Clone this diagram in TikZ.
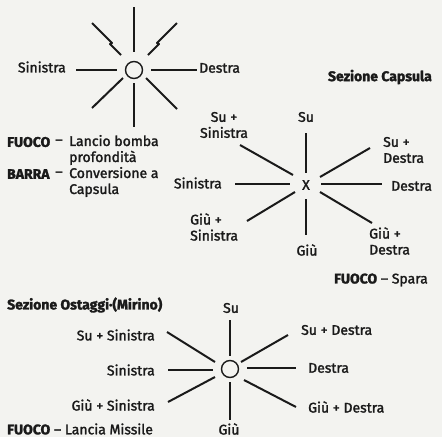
\documentclass[tikz,border=0pt]{standalone}
\usepackage{fontspec}
\setmainfont{Fira Sans}[UprightFeatures={FakeBold=1.8},BoldFeatures={FakeBold=1.8}]
\begin{document}
\begin{tikzpicture}[x=1pt,y=-1pt,
  spoke/.style={line width=2pt,draw=ink,line join=round},
  lbl/.style={inner sep=0pt,text=ink,font=\fontsize{14}{16}\selectfont},
  hdr/.style={lbl,font=\fontsize{14}{16}\selectfont\bfseries},
  ring/.style={circle,draw=ink,line width=1.4pt,minimum size=17pt,inner sep=0pt}]
\definecolor{ink}{HTML}{1A1A1A}
\definecolor{paper}{HTML}{F3F3F0}
\fill[paper] (0,0) rectangle (442,437);
\useasboundingbox (0,0) rectangle (442,437);

% ---------- top diagram ----------
\node[ring] (c1) at (134,70) {};
\coordinate (t1u0) at (134,7);   \coordinate (t1u1) at (134,52);
\coordinate (t1d0) at (134,83);  \coordinate (t1d1) at (134,127);
\coordinate (t1l0) at (76,70);   \coordinate (t1l1) at (117,70);
\coordinate (t1r0) at (151,70);  \coordinate (t1r1) at (197,70);
\coordinate (t1a0) at (92,23);   \coordinate (t1a1) at (112,43);
\coordinate (t1a2) at (110,44);  \coordinate (t1a3) at (121,55);
\coordinate (t1b0) at (177,23);  \coordinate (t1b1) at (157,43);
\coordinate (t1b2) at (159,44);  \coordinate (t1b3) at (148,55);
\coordinate (t1c0) at (123,78);  \coordinate (t1c1) at (92,108);
\coordinate (t1e0) at (146,78);  \coordinate (t1e1) at (177,109);
\draw[spoke] (t1u0) -- (t1u1);
\draw[spoke] (t1d0) -- (t1d1);
\draw[spoke] (t1l0) -- (t1l1);
\draw[spoke] (t1r0) -- (t1r1);
\draw[spoke] (t1a0) -- (t1a1) -- (t1a2) -- (t1a3);
\draw[spoke] (t1b0) -- (t1b1) -- (t1b2) -- (t1b3);
\draw[spoke] (t1c0) -- (t1c1);
\draw[spoke] (t1e0) -- (t1e1);
\node[lbl,anchor=east] (t1sin) at (66,67) {Sinistra};
\node[lbl,anchor=west] (t1des) at (199,68) {Destra};

\node[hdr,anchor=west] (fuoco1) at (7,142) {FUOCO};
\node[lbl] (dash1) at (59,142) {–};
\node[lbl,anchor=west,align=left] (lancio) at (69,150) {Lancio bomba\\profondità};
\node[hdr,anchor=west] (barra) at (7,174) {BARRA};
\node[lbl] (dash2) at (59,174) {–};
\node[lbl,anchor=west,align=left] (conv) at (69,182) {Conversione a\\Capsula};

% ---------- middle diagram ----------
\node[hdr,anchor=east] (sezcap) at (432,77) {Sezione Capsula};
\node[lbl] (x2) at (306,185) {X};
\coordinate (m2u0) at (306,133); \coordinate (m2u1) at (306,173);
\coordinate (m2d0) at (306,199); \coordinate (m2d1) at (306,235);
\coordinate (m2l0) at (235,184); \coordinate (m2l1) at (290,184);
\coordinate (m2r0) at (321,184); \coordinate (m2r1) at (382,184);
\coordinate (m2a0) at (240,145); \coordinate (m2a1) at (293,175);
\coordinate (m2b0) at (320,177); \coordinate (m2b1) at (370,148);
\coordinate (m2c0) at (247,221); \coordinate (m2c1) at (295,192);
\coordinate (m2e0) at (320,192); \coordinate (m2e1) at (372,223);
\draw[spoke] (m2u0) -- (m2u1);
\draw[spoke] (m2d0) -- (m2d1);
\draw[spoke] (m2l0) -- (m2l1);
\draw[spoke] (m2r0) -- (m2r1);
\draw[spoke] (m2a0) -- (m2a1);
\draw[spoke] (m2b0) -- (m2b1);
\draw[spoke] (m2c0) -- (m2c1);
\draw[spoke] (m2e0) -- (m2e1);
\node[lbl,align=center] (m2ul) at (224,125) {Su +\\Sinistra};
\node[lbl] (m2su) at (306,117) {Su};
\node[lbl,anchor=west,align=left] (m2ur) at (383,150) {Su +\\Destra};
\node[lbl,anchor=east] (m2sin) at (222,183) {Sinistra};
\node[lbl,anchor=west] (m2des) at (391,186) {Destra};
\node[lbl,anchor=west,align=left] (m2ll) at (190,227) {Giù +\\Sinistra};
\node[lbl] (m2giu) at (307,250) {Giù};
\node[lbl,anchor=west,align=left] (m2lr) at (369,241) {Giù +\\Destra};
\node[lbl,anchor=east] (spara) at (428,280) {\textbf{FUOCO} – Spara};

% ---------- bottom diagram ----------
\node[hdr,anchor=west] (sezost) at (7,305) {Sezione Ostaggi·(Mirino)};
\node[ring] (c3) at (230,369) {};
\coordinate (b3u0) at (230,320); \coordinate (b3u1) at (230,356);
\coordinate (b3d0) at (230,382); \coordinate (b3d1) at (230,420);
\coordinate (b3l0) at (168,370); \coordinate (b3l1) at (213,370);
\coordinate (b3r0) at (247,368); \coordinate (b3r1) at (296,368);
\coordinate (b3a0) at (167,332); \coordinate (b3a1) at (215,362);
\coordinate (b3b0) at (241,362); \coordinate (b3b1) at (288,335);
\coordinate (b3c0) at (168,402); \coordinate (b3c1) at (215,377);
\coordinate (b3e0) at (244,380); \coordinate (b3e1) at (296,407);
\draw[spoke] (b3u0) -- (b3u1);
\draw[spoke] (b3d0) -- (b3d1);
\draw[spoke] (b3l0) -- (b3l1);
\draw[spoke] (b3r0) -- (b3r1);
\draw[spoke] (b3a0) -- (b3a1);
\draw[spoke] (b3b0) -- (b3b1);
\draw[spoke] (b3c0) -- (b3c1);
\draw[spoke] (b3e0) -- (b3e1);
\node[lbl] (b3su) at (231,308) {Su};
\node[lbl,anchor=east] (b3ul) at (155,335) {Su + Sinistra};
\node[lbl,anchor=east] (b3sin) at (155,370) {Sinistra};
\node[lbl,anchor=east] (b3ll) at (155,405) {Giù + Sinistra};
\node[lbl] (b3giu) at (229,429) {Giù};
\node[lbl,anchor=west] (b3ur) at (301,330) {Su + Destra};
\node[lbl,anchor=west] (b3des) at (308,368) {Destra};
\node[lbl,anchor=west] (b3lr) at (308,407) {Giù + Destra};
\node[lbl,anchor=west] (missile) at (7,429) {\textbf{FUOCO} – Lancia Missile};
\end{tikzpicture}
\end{document}
